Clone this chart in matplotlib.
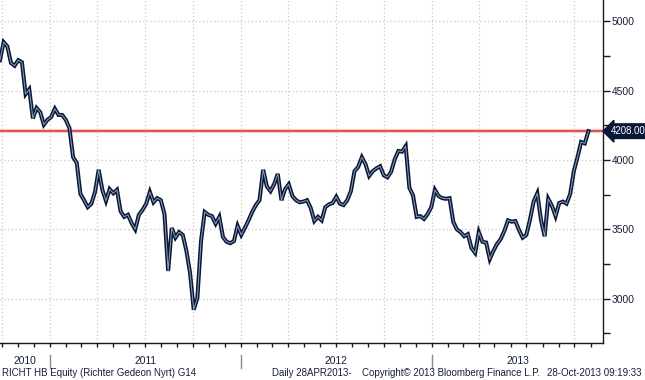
import matplotlib
matplotlib.use('Agg')
import matplotlib.pyplot as plt
import matplotlib.dates as mdates
import matplotlib.transforms as mtransforms
from matplotlib.ticker import FixedLocator
import pandas as pd

plt.rcParams['font.family'] = ['Liberation Sans', 'DejaVu Sans']

# Weekly closing levels (RICHT HB Equity)
prices = [
    4720, 4850, 4820, 4700, 4680, 4720, 4705, 4475, 4510, 4300,
    4375, 4345, 4255, 4290, 4310, 4370, 4325, 4325, 4290, 4230,
    4020, 3980, 3755, 3710, 3660, 3685, 3770, 3930, 3785, 3705,
    3790, 3760, 3785, 3630, 3590, 3605, 3545, 3500, 3605, 3640,
    3685, 3770, 3695, 3725, 3710, 3610, 3200, 3510, 3440, 3480,
    3460, 3345, 3185, 2920, 3005, 3415, 3625, 3605, 3595, 3540,
    3590, 3445, 3410, 3400, 3415, 3525, 3460, 3510, 3565, 3625,
    3675, 3710, 3930, 3810, 3775, 3825, 3900, 3710, 3790, 3825,
    3740, 3710, 3695, 3700, 3710, 3655, 3560, 3590, 3565, 3660,
    3680, 3690, 3735, 3685, 3675, 3710, 3775, 3920, 3950, 4020,
    3970, 3885, 3920, 3940, 3955, 3890, 3875, 3915, 4005, 4065,
    4060, 4100, 3800, 3745, 3590, 3595, 3575, 3610, 3660, 3785,
    3740, 3725, 3720, 3725, 3555, 3500, 3480, 3450, 3465, 3365,
    3330, 3480, 3410, 3405, 3285, 3345, 3395, 3430, 3490, 3565,
    3555, 3560, 3495, 3440, 3460, 3570, 3700, 3760, 3570, 3450,
    3720, 3670, 3595, 3690, 3700, 3685, 3755, 3920, 4020, 4130,
    4120, 4208,
]
start_date = '2010-09-27'
dates = pd.date_range(start_date, periods=len(prices), freq='7D')

last_price = 4208.00
y_ticks = [3000, 3500, 4000, 4500, 5000]
y_minor = [2750, 3250, 3750, 4250, 4750]
year_labels = ['2010', '2011', '2012', '2013']
year_bounds = ['2010-09-27', '2011-01-01', '2012-01-01', '2013-01-01', '2013-11-25']

navy = '#0a1838'
text_col = '#16203a'

fig = plt.figure(figsize=(6.45, 3.8), dpi=100)
ax = fig.add_axes([0.0, 0.098, 0.935, 0.902])

x0 = pd.Timestamp(year_bounds[0])
x1 = pd.Timestamp(year_bounds[-1])
ax.set_xlim(x0, x1)
ax.set_ylim(2682, 5154)

# grid
ax.set_yticks(y_ticks)
ax.yaxis.set_minor_locator(FixedLocator(y_minor))
ax.xaxis.set_major_locator(mdates.MonthLocator(bymonth=[1, 4, 7, 10]))
ax.xaxis.set_minor_locator(mdates.MonthLocator())
ax.grid(True, which='major', color='#c9c9c9', linestyle=(0, (1, 2)), linewidth=0.9)

# price series
ax.plot(dates, prices, color=navy, linewidth=2.9, solid_joinstyle='miter', zorder=3)
ax.plot(dates, prices, color='#8fa0b8', linewidth=0.7, zorder=4)

# last price line
ax.axhline(last_price, color='#f6c8c8', linewidth=3.0, zorder=2)
ax.axhline(last_price, color='#d83232', linewidth=1.1, zorder=2)

# spines
for s in ['left', 'top']:
    ax.spines[s].set_visible(False)
for s in ['right', 'bottom']:
    ax.spines[s].set_color('#1a1a1a')
    ax.spines[s].set_linewidth(1.0)

ax.yaxis.tick_right()
ax.tick_params(axis='y', which='both', direction='out', length=5, width=1,
               colors='#1a1a1a', labelcolor=text_col, labelsize=7.4, pad=1)
ax.tick_params(axis='x', which='both', direction='out', length=3, width=1,
               colors='#1a1a1a', labelbottom=False)

# last price tag
ax.text(1.013, last_price, '%.2f' % last_price, transform=ax.get_yaxis_transform(),
        ha='left', va='center', fontsize=6.9, color='white',
        bbox=dict(boxstyle='larrow,pad=0.24', fc=navy, ec=navy), clip_on=False, zorder=6)

# year separators and labels
trans = mtransforms.blended_transform_factory(ax.transData, fig.transFigure)
for b in year_bounds[1:-1]:
    ax.plot([pd.Timestamp(b)] * 2, [0.032, 0.066], transform=trans, color='#8a8a8a',
            linewidth=1.0, clip_on=False)
for i, lab in enumerate(year_labels):
    a = pd.Timestamp(year_bounds[i])
    b = pd.Timestamp(year_bounds[i + 1])
    mid = a + (b - a) / 2
    ax.text(mid, 0.05, lab, transform=trans, ha='center', va='center', fontsize=7.4,
            color=text_col)

# footer
fy = 0.018
fs = 7.0
fig.text(0.003, fy, 'RICHT HB Equity (Richter Gedeon Nyrt) G14', ha='left', va='center',
         fontsize=fs, color=text_col)
fig.text(0.4217, fy, 'Daily 28APR2013-', ha='left', va='center', fontsize=fs, color=text_col)
fig.text(0.561, fy, 'Copyright\u00a9 2013 Bloomberg Finance L.P.', ha='left', va='center',
         fontsize=fs, color=text_col)
fig.text(0.994, fy, '28-Oct-2013 09:19:33', ha='right', va='center', fontsize=fs,
         color=text_col)

fig.savefig('out.png', dpi=100)
